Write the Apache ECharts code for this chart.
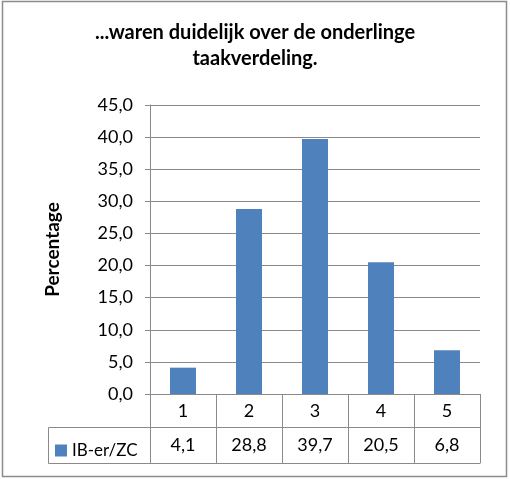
<!DOCTYPE html>
<html>
<head>
<meta charset="utf-8">
<script src="https://cdn.jsdelivr.net/npm/echarts@6/dist/echarts.min.js"></script>
<style>
  html, body { margin: 0; padding: 0; background: #fff; }
  #chart { width: 510px; height: 479px; }
</style>
</head>
<body>
<div id="chart"></div>
<script>
// Survey answers on a 1-5 scale, percentage per answer
const categories = ['1', '2', '3', '4', '5'];
const seriesName = 'IB-er/ZC';
const values = [4.1, 28.8, 39.7, 20.5, 6.8];
const yTicks = { min: 0, max: 45, interval: 5 };
const titleLines = ['...waren duidelijk over de onderlinge', 'taakverdeling.'];
const yAxisTitle = 'Percentage';

const fmt = v => v.toFixed(1).replace('.', ',');
const valueLabels = values.map(fmt);

const FONT = 'Lato';
const LINE = '#8a8a8a';
const BAR = '#4F81BD';

// plot box and data table geometry
const G = { left: 150, right: 30, top: 105, bottom: 85 };
const W = 510, H = 479;
const axisY = H - G.bottom;      // bottom of plot / top of table
const rowH = 33;
const row2H = 36;
const legendLeft = 48;

const titleStyle = { fontFamily: FONT, fontWeight: 'bold', fontSize: 20, color: '#000' };

const chart = echarts.init(document.getElementById('chart'), null, { renderer: 'canvas' });

chart.setOption({
  animation: false,
  backgroundColor: '#fff',
  title: [
    { text: titleLines[0], left: 255, textAlign: 'center', top: 23, padding: 0, textStyle: titleStyle },
    { text: titleLines[1], left: 255, textAlign: 'center', top: 49, padding: 0, textStyle: titleStyle }
  ],
  grid: { left: G.left, right: G.right, top: G.top, bottom: G.bottom, containLabel: false },
  legend: {
    data: [seriesName],
    left: 50,
    top: axisY + rowH + 10,
    icon: 'rect',
    itemWidth: 12,
    itemHeight: 12,
    textStyle: { fontFamily: FONT, fontSize: 17, color: '#000', padding: [0, 0, 0, 0] }
  },
  xAxis: [
    {
      type: 'category',
      data: categories,
      position: 'bottom',
      axisLine: { show: true, lineStyle: { color: LINE, width: 1 } },
      axisTick: { show: true, length: rowH + row2H, lineStyle: { color: LINE } },
      axisLabel: { fontFamily: FONT, fontSize: 18, color: '#000', margin: 8 },
      splitLine: { show: false }
    },
    {
      type: 'category',
      data: valueLabels,
      position: 'bottom',
      offset: rowH,
      axisLine: { show: true, lineStyle: { color: LINE, width: 1 } },
      axisTick: { show: false },
      axisLabel: { fontFamily: FONT, fontSize: 18, color: '#000', margin: 9 }
    },
    {
      type: 'category',
      data: categories,
      position: 'bottom',
      offset: rowH + row2H,
      axisLine: { show: true, lineStyle: { color: LINE, width: 1 } },
      axisTick: { show: false },
      axisLabel: { show: false }
    }
  ],
  yAxis: {
    type: 'value',
    min: yTicks.min,
    max: yTicks.max,
    interval: yTicks.interval,
    name: yAxisTitle,
    nameLocation: 'middle',
    nameGap: 88,
    nameTextStyle: { fontFamily: FONT, fontWeight: 'bold', fontSize: 19, color: '#000' },
    axisLine: { show: true, lineStyle: { color: LINE } },
    axisTick: { show: true, inside: false, length: 5, lineStyle: { color: LINE } },
    axisLabel: { fontFamily: FONT, fontSize: 18, color: '#000', margin: 17, formatter: v => fmt(v) },
    splitLine: { show: true, lineStyle: { color: LINE, width: 1 } }
  },
  series: [
    {
      name: seriesName,
      type: 'bar',
      data: values,
      barWidth: 26,
      itemStyle: { color: BAR }
    }
  ],
  graphic: [
    // outer frame
    {
      type: 'rect',
      shape: { x: 2.5, y: 1.5, width: 504, height: 475 },
      style: { fill: null, stroke: '#8c8c8c', lineWidth: 1.5 },
      silent: true
    },
    // legend cell of the data table
    {
      type: 'polyline',
      shape: { points: [[G.left, axisY + rowH + 0.5], [legendLeft + 0.5, axisY + rowH + 0.5], [legendLeft + 0.5, axisY + rowH + row2H + 0.5], [G.left, axisY + rowH + row2H + 0.5]] },
      style: { fill: null, stroke: LINE, lineWidth: 1 },
      silent: true
    }
  ]
});
</script>
</body>
</html>
